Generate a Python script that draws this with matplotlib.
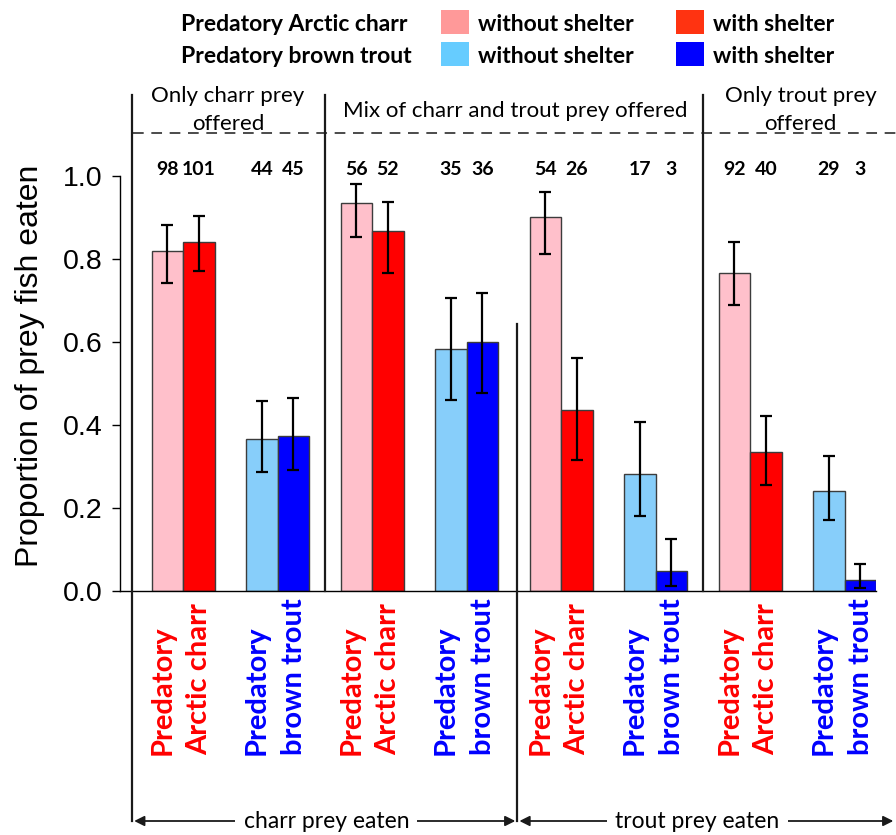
import numpy as np
import matplotlib
matplotlib.use("Agg")
import matplotlib.pyplot as plt
from matplotlib.patches import Rectangle

# ---------------------------------------------------------------------------
# data: proportion of prey fish eaten (mean and CI), 8 predator/prey panels
# order: only charr prey (charr pred, trout pred), mix -> charr prey eaten,
#        mix -> trout prey eaten, only trout prey
# ---------------------------------------------------------------------------
predators = ["Arctic charr", "brown trout"] * 4
without_shelter = [0.819, 0.366, 0.934, 0.584, 0.902, 0.283, 0.767, 0.242]
without_lo = [0.742, 0.286, 0.853, 0.460, 0.811, 0.180, 0.688, 0.172]
without_hi = [0.882, 0.458, 0.981, 0.705, 0.961, 0.408, 0.841, 0.325]
with_shelter = [0.842, 0.374, 0.868, 0.599, 0.435, 0.048, 0.334, 0.026]
with_lo = [0.771, 0.292, 0.766, 0.476, 0.316, 0.013, 0.255, 0.008]
with_hi = [0.904, 0.466, 0.938, 0.719, 0.561, 0.126, 0.422, 0.065]
n_without = [98, 44, 56, 35, 54, 17, 92, 29]
n_with = [101, 45, 52, 36, 26, 3, 40, 3]
headers = ["Only charr prey\noffered", "Mix of charr and trout prey offered",
           "Only trout prey\noffered"]
eaten_labels = ["charr prey eaten", "trout prey eaten"]

# colours
BAR_COL = {"Arctic charr": ("#FFC0CB", "#FF0000"),
           "brown trout": ("#87CEFA", "#0000FF")}
TXT_COL = {"Arctic charr": "#FF0000", "brown trout": "#0000FF"}
LEG_COL = {"Arctic charr": ("#FF9999", "#FF3311"),
           "brown trout": ("#66CCFF", "#0000FF")}

CAL = "Lato"
ARI = "Liberation Sans"
W, H = 896, 835

fig = plt.figure(figsize=(W / 100, H / 100), dpi=100)
ax = fig.add_axes([120 / W, 1 - 591 / H, 756 / W, 415 / H])

def py(p):
    # pixel row -> data y
    return (591 - p) / 415.0

n = len(without_shelter)
x_wo = np.arange(n) * 3 + 1.5
x_w = x_wo + 1.0
wo = np.array(without_shelter)
w = np.array(with_shelter)

ax.bar(x_wo, wo, width=1.0, color=[BAR_COL[p][0] for p in predators],
       edgecolor="#3c3c3c", linewidth=1.0, zorder=2)
ax.bar(x_w, w, width=1.0, color=[BAR_COL[p][1] for p in predators],
       edgecolor="#3c3c3c", linewidth=1.0, zorder=2)
ax.errorbar(x_wo, wo, yerr=[wo - np.array(without_lo), np.array(without_hi) - wo],
            fmt="none", ecolor="black", elinewidth=1.6, capsize=4.5, capthick=1.6, zorder=3)
ax.errorbar(x_w, w, yerr=[w - np.array(with_lo), np.array(with_hi) - w],
            fmt="none", ecolor="black", elinewidth=1.6, capsize=4.5, capthick=1.6, zorder=3)

# sample sizes above bars
for i in range(n):
    ax.text(x_wo[i], py(175), str(n_without[i]), ha="center", va="baseline",
            fontsize=14, fontweight="bold", family=CAL, clip_on=False)
    ax.text(x_w[i], py(175), str(n_with[i]), ha="center", va="baseline",
            fontsize=14, fontweight="bold", family=CAL, clip_on=False)

# predator labels under the bars
for i, p in enumerate(predators):
    c = x_wo[i] + 0.5
    ax.text(c - 0.40, py(755), "Predatory", rotation=90, rotation_mode="anchor",
            ha="left", va="baseline", fontsize=21, fontweight="bold",
            color=TXT_COL[p], family=CAL, clip_on=False)
    ax.text(c + 0.78, py(755), p, rotation=90, rotation_mode="anchor",
            ha="left", va="baseline", fontsize=21, fontweight="bold",
            color=TXT_COL[p], family=CAL, clip_on=False)

# axes styling
ax.set_xlim(0, 24)
ax.set_ylim(0, 1.0)
ax.spines["top"].set_visible(False)
ax.spines["right"].set_visible(False)
ax.spines["left"].set_linewidth(1.0)
ax.spines["bottom"].set_linewidth(1.0)
ax.set_xticks([])
ax.set_yticks([0, 0.2, 0.4, 0.6, 0.8, 1.0])
ax.set_yticklabels(["0.0", "0.2", "0.4", "0.6", "0.8", "1.0"], family=ARI, fontsize=20.5)
ax.tick_params(axis="y", length=5.8, width=1.0, pad=7)
fig.text(30 / W, 1 - 366 / H, "Proportion of prey fish eaten", rotation=90,
         ha="center", va="center", fontsize=23, family=ARI)

# panel dividers, dashed line, arrows
kw = dict(color="#1a1a1a", lw=1.6, clip_on=False, zorder=4)
ax.plot([0.38, 0.38], [py(95), py(821)], **kw)
ax.plot([6.5, 6.5], [py(95), 0], **kw)
ax.plot([12.6, 12.6], [py(324), py(821)], **kw)
ax.plot([18.5, 18.5], [py(95), 0], **kw)
ax.plot([0.4, 24.65], [py(133), py(133)], color="#1a1a1a", lw=1.1,
        dashes=(7, 5), clip_on=False)

ax.text(3.43, py(102), headers[0].split("\n")[0], ha="center", va="baseline",
        fontsize=16, family=CAL, clip_on=False)
ax.text(3.43, py(130), headers[0].split("\n")[1], ha="center", va="baseline",
        fontsize=16, family=CAL, clip_on=False)
ax.text(12.56, py(117), headers[1], ha="center", va="baseline",
        fontsize=16, family=CAL, clip_on=False)
ax.text(21.6, py(102), headers[2].split("\n")[0], ha="center", va="baseline",
        fontsize=16, family=CAL, clip_on=False)
ax.text(21.6, py(130), headers[2].split("\n")[1], ha="center", va="baseline",
        fontsize=16, family=CAL, clip_on=False)

arr = dict(arrowstyle="<|-|>", color="#1a1a1a", lw=1.3, mutation_scale=15,
           shrinkA=0, shrinkB=0)
ya = py(821)
ax.annotate("", xy=(0.45, ya), xytext=(12.55, ya), arrowprops=arr, annotation_clip=False)
ax.annotate("", xy=(12.68, ya), xytext=(24.55, ya), arrowprops=arr, annotation_clip=False)
for xc, lab in zip([6.55, 18.33], eaten_labels):
    ax.text(xc, ya, lab, ha="center", va="center", fontsize=16.5, family=CAL,
            bbox=dict(facecolor="white", edgecolor="none", pad=6), clip_on=False, zorder=5)

# legend at the top (drawn by hand, like the original)
rows = [("Arctic charr", 31), ("brown trout", 63)]
for p, base in rows:
    fig.text(181 / W, 1 - base / H, "Predatory " + p, ha="left", va="baseline",
             fontsize=16.5, fontweight="bold", family=CAL)
    for (x0, lab), col in zip([(441, "without shelter"), (676, "with shelter")], LEG_COL[p]):
        fig.patches.append(Rectangle((x0 / W, 1 - (base + 3) / H), 28 / W, 24 / H,
                                     transform=fig.transFigure, facecolor=col,
                                     edgecolor="none"))
        fig.text((x0 + 37) / W, 1 - base / H, lab, ha="left", va="baseline",
                 fontsize=16.5, fontweight="bold", family=CAL)

fig.savefig("out.png", dpi=100)
